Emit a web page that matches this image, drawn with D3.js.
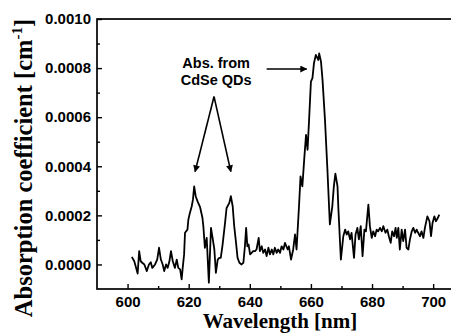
<!DOCTYPE html>
<html>
<head>
<meta charset="utf-8">
<script src="https://cdn.jsdelivr.net/npm/d3@7"></script>
<style>
  body { margin: 0; background: #fff; }
</style>
</head>
<body>
<div id="chart"></div>
<script>
// wavelength in nm
var wavelength = [
  601.4, 602.2, 603.3, 603.8, 604.3, 604.8, 605.5, 606.3, 607.0, 607.6,
  608.1, 609.0, 609.7, 610.3, 610.9, 611.5, 612.0, 612.6, 613.1, 613.7,
  614.2, 614.8, 615.5, 616.1, 616.6, 617.2, 617.7, 618.0, 618.5, 618.8,
  619.6, 619.9, 620.4, 621.0, 621.4, 621.8, 622.3, 622.9, 623.7, 624.5,
  624.8, 625.3, 625.9, 626.6, 627.3, 627.9, 628.4, 628.9, 629.5, 630.0,
  630.5, 631.1, 631.9, 632.4, 633.3, 633.8, 634.4, 634.9, 635.5, 636.0,
  636.6, 637.3, 637.9, 638.4, 638.8, 639.2, 639.6, 640.1, 640.6, 641.1,
  641.7, 642.2, 642.9, 643.3, 643.9, 644.4, 645.0, 645.5, 646.1, 646.6,
  647.2, 647.7, 648.2, 648.8, 649.3, 649.9, 650.4, 651.0, 651.5, 652.4,
  652.8, 653.5, 654.2, 654.8, 655.3, 656.1, 656.6, 657.2, 657.8, 658.4,
  658.9, 659.4, 660.0, 660.5, 661.0, 661.6, 662.0, 662.4, 662.7, 663.3,
  663.8, 664.6, 665.4, 666.2, 667.0, 667.5, 668.0, 668.7, 669.0, 669.8,
  670.6, 671.2, 671.7, 672.2, 672.8, 673.3, 674.1, 674.6, 675.2, 675.7,
  676.3, 676.9, 677.5, 678.0, 678.8, 679.3, 679.9, 680.4, 681.0, 681.5,
  682.0, 682.6, 683.2, 683.7, 684.4, 685.0, 685.5, 686.1, 686.6, 687.2,
  687.7, 688.1, 688.6, 689.1, 689.7, 690.2, 690.8, 691.3, 691.9, 692.4,
  693.0, 693.5, 694.1, 694.6, 695.1, 695.7, 696.2, 696.8, 697.3, 698.1,
  698.8, 699.3, 699.8, 700.4, 700.9, 701.5, 702.0
];

// absorption coefficient, in units of 1e-4 cm^-1
var absorption = [
  0.31, 0.13, -0.37, 0.54, 0.13, 0.07, 0.00, -0.27, 0.00, 0.09,
  -0.14, 0.00, 0.20, 0.68, 0.20, 0.00, -0.27, 0.00, -0.14, 0.13,
  0.54, 0.13, -0.14, 0.20, -0.14, -0.20, -0.61, -0.20, 0.41, 1.29,
  1.42, 1.83, 2.10, 2.37, 2.64, 3.18, 2.78, 2.57, 2.35, 1.90,
  1.56, 0.68, 1.08, -0.74, 1.49, 1.02, 0.61, -0.34, 0.20, 0.27,
  0.27, 0.81, 1.69, 2.30, 2.51, 2.78, 2.37, 1.56, 0.88, 0.27,
  0.07, 0.00, 0.07, 0.74, 1.49, 0.74, 0.81, 0.41, 0.47, 0.54,
  0.54, 0.61, 1.08, 0.54, 0.74, 0.47, 0.61, 0.34, 0.68, 0.41,
  0.61, 0.41, 0.68, 0.47, 0.61, 0.47, 0.74, 0.61, 0.88, 0.61,
  0.74, 0.20, 0.61, 1.22, 0.61, 2.37, 3.59, 3.18, 4.27, 5.28,
  4.67, 5.89, 7.45, 7.59, 8.20, 8.54, 8.44, 8.33, 8.60, 8.26,
  7.52, 5.89, 3.86, 1.63, 2.37, 3.18, 3.70, 3.18, 2.24, 0.20,
  1.15, 1.42, 1.22, 1.35, 1.02, 1.29, 0.27, 1.22, 1.49, 1.02,
  1.56, 0.34, 1.42, 1.35, 2.44, 1.56, 1.08, 1.35, 1.15, 1.42,
  1.35, 1.49, 1.35, 1.56, 1.29, 1.42, 1.15, 0.88, 1.35, 1.15,
  1.49, 1.08, 1.49, 0.61, 1.42, 0.95, 1.42, 0.68, 0.61, 1.02,
  1.35, 1.49, 1.29, 1.42, 1.29, 1.15, 1.35, 1.08, 1.49, 1.96,
  1.76, 1.15, 1.69, 1.96, 1.76, 1.89, 2.03
];

var xTicks = [600, 620, 640, 660, 680, 700];
var xMinorTicks = [610, 630, 650, 670, 690];
var yTicks = [0, 0.0002, 0.0004, 0.0006, 0.0008, 0.0010];
var yMinorTicks = [0.0001, 0.0003, 0.0005, 0.0007, 0.0009];

var labelLines = ["Abs. from", "CdSe QDs"];

var width = 451, height = 334;
var margin = { top: 19, left: 97, bottom: 45 };

var svg = d3.select("#chart")
  .append("svg")
  .attr("width", width)
  .attr("height", height);

var x = d3.scaleLinear()
  .domain([590, 710])
  .range([margin.left, margin.left + 120 * 3.056]);

var y = d3.scaleLinear()
  .domain([-0.0001, 0.0010])
  .range([height - margin.bottom, margin.top]);

// arrow head
svg.append("defs").append("marker")
  .attr("id", "head")
  .attr("viewBox", "0 0 10 10")
  .attr("refX", 9).attr("refY", 5)
  .attr("markerWidth", 9).attr("markerHeight", 7)
  .attr("markerUnits", "userSpaceOnUse")
  .attr("orient", "auto")
  .append("path")
  .attr("d", "M0,0 L10,5 L0,10 Z")
  .attr("fill", "#000");

// frame
svg.append("rect")
  .attr("x", x(590))
  .attr("y", y(0.0010))
  .attr("width", x(710) - x(590))
  .attr("height", y(-0.0001) - y(0.0010))
  .attr("fill", "none")
  .attr("stroke", "#000")
  .attr("stroke-width", 1.7);

var tickFont = "bold 15px 'Liberation Sans', Arial, sans-serif";

// x axis
var gx = svg.append("g")
  .attr("transform", `translate(0,${y(-0.0001)})`)
  .call(d3.axisBottom(x).tickValues(xTicks).tickSize(-5).tickPadding(7).tickFormat(d3.format("d")));
gx.append("g")
  .call(d3.axisBottom(x).tickValues(xMinorTicks).tickSize(-3).tickFormat(""));

// y axis
var gy = svg.append("g")
  .attr("transform", `translate(${x(590)},0)`)
  .call(d3.axisLeft(y).tickValues(yTicks).tickSize(-5).tickPadding(6).tickFormat(d3.format(".4f")));
gy.append("g")
  .call(d3.axisLeft(y).tickValues(yMinorTicks).tickSize(-3).tickFormat(""));

svg.selectAll(".domain").remove();
svg.selectAll(".tick line").attr("stroke", "#000").attr("stroke-width", 1.4);
svg.selectAll(".tick text")
  .style("font", tickFont)
  .attr("fill", "#000");

// spectrum
var line = d3.line()
  .x((d, i) => x(wavelength[i]))
  .y(d => y(d * 1e-4));

svg.append("path")
  .datum(absorption)
  .attr("d", line)
  .attr("fill", "none")
  .attr("stroke", "#000")
  .attr("stroke-width", 1.8)
  .attr("stroke-linejoin", "round");

// annotation
var note = svg.append("g")
  .style("font", "bold 14.5px 'Liberation Sans', Arial, sans-serif")
  .attr("text-anchor", "middle");
note.selectAll("text")
  .data(labelLines)
  .enter().append("text")
  .attr("x", x(629.0))
  .attr("y", (d, i) => y(0.000800) + i * 17)
  .text(d => d);

var arrows = [
  { from: [645.5, 0.000796], to: [658.6, 0.000796] },
  { from: [628.3, 0.000684], to: [622.1, 0.000378] },
  { from: [628.3, 0.000684], to: [633.8, 0.000378] }
];
svg.selectAll("line.arrow")
  .data(arrows)
  .enter().append("line")
  .attr("class", "arrow")
  .attr("x1", d => x(d.from[0]))
  .attr("y1", d => y(d.from[1]))
  .attr("x2", d => x(d.to[0]))
  .attr("y2", d => y(d.to[1]))
  .attr("stroke", "#000")
  .attr("stroke-width", 1.6)
  .attr("marker-end", "url(#head)");

// axis titles
svg.append("text")
  .attr("x", 280)
  .attr("y", 328)
  .attr("text-anchor", "middle")
  .style("font", "bold 21px 'Liberation Serif', 'Times New Roman', serif")
  .text("Wavelength [nm]");

var yt = svg.append("text")
  .attr("transform", "translate(32,168) rotate(-90)")
  .attr("text-anchor", "middle")
  .style("font", "bold 24.5px 'Liberation Serif', 'Times New Roman', serif")
  .text("Absorption coefficient [cm");
yt.append("tspan")
  .attr("dy", -10)
  .style("font-size", "15px")
  .text("-1");
yt.append("tspan")
  .attr("dy", 10)
  .text("]");
</script>
</body>
</html>
